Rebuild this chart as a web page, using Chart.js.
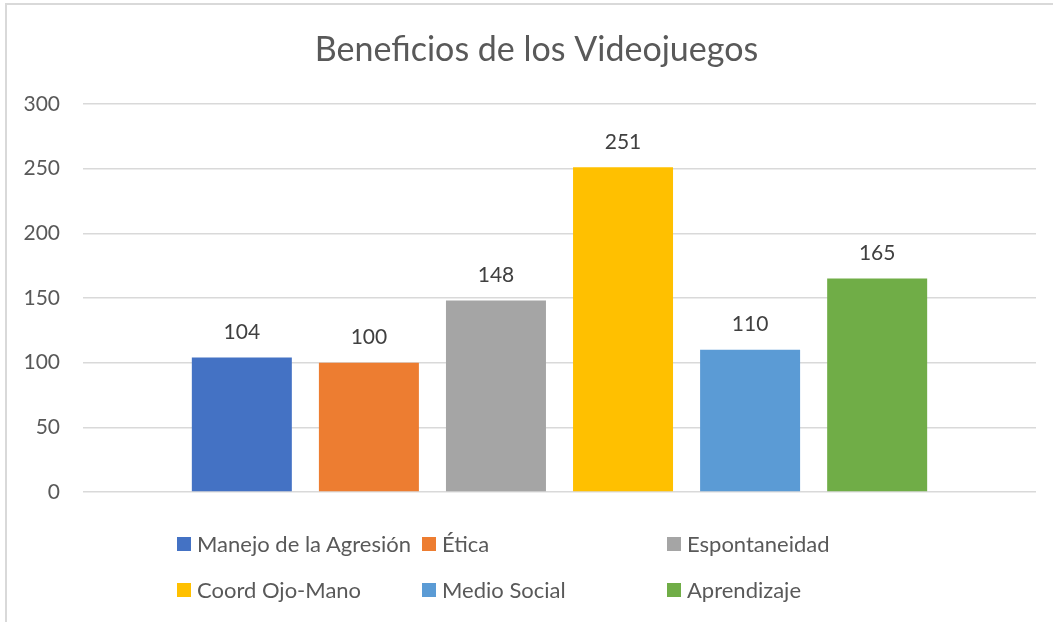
<!DOCTYPE html>
<html>
<head>
<meta charset="utf-8">
<script src="https://cdn.jsdelivr.net/npm/chart.js@4"></script>
<style>
  body { margin: 0; background: #fff; font-family: Lato, "Open Sans", sans-serif; }
  #wrap { position: relative; width: 1053px; height: 622px; overflow: hidden; }
  #frame { position: absolute; left: 5px; top: 3px; width: 1100px; height: 700px; border: 2px solid #d9d9d9; }
  #myChart { position: absolute; left: 0; top: 0; }
  #legend { position: absolute; left: 177px; top: 530px; display: grid; grid-template-columns: 245px 245px 245px; row-gap: 19px; }
  .item { display: flex; align-items: center; height: 27px; font-size: 22px; color: #595959; white-space: nowrap; }
  .box { width: 14px; height: 14px; margin-right: 6px; flex: none; }
</style>
</head>
<body>
<div id="wrap">
  <div id="frame"></div>
  <canvas id="myChart" width="1053" height="622"></canvas>
  <div id="legend"></div>
</div>
<script>
const chartTitle = 'Beneficios de los Videojuegos';
const seriesNames = ['Manejo de la Agresión', 'Ética', 'Espontaneidad', 'Coord Ojo-Mano', 'Medio Social', 'Aprendizaje'];
const seriesValues = [104, 100, 148, 251, 110, 165];
const seriesColors = ['#4472C4', '#ED7D31', '#A5A5A5', '#FFC000', '#5B9BD5', '#70AD47'];
const yTicks = [0, 50, 100, 150, 200, 250, 300];

// etiquetas encima de cada barra
const barLabels = {
    id: 'barLabels',
    afterDatasetsDraw(chart) {
        const ctx = chart.ctx;
        ctx.save();
        ctx.font = '21px Lato, "Open Sans", sans-serif';
        ctx.fillStyle = '#404040';
        ctx.textAlign = 'center';
        ctx.textBaseline = 'middle';
        chart.data.datasets.forEach((ds, i) => {
            const bar = chart.getDatasetMeta(i).data[0];
            ctx.fillText(ds.data[0], bar.x, bar.y - 25);
        });
        ctx.restore();
    }
};

// título (un poco a la derecha del centro, como en Excel)
const titlePlugin = {
    id: 'titlePlugin',
    afterDraw(chart) {
        const ctx = chart.ctx;
        ctx.save();
        ctx.font = '34px Lato, "Open Sans", sans-serif';
        ctx.fillStyle = '#595959';
        ctx.textAlign = 'center';
        ctx.textBaseline = 'middle';
        ctx.fillText(chartTitle, chart.width / 2 + 10, 50);
        ctx.restore();
    }
};

let datasets = [];
for (let i = 0; i < seriesNames.length; i++) {
    datasets.push({
        label: seriesNames[i],
        data: [seriesValues[i]],
        backgroundColor: seriesColors[i],
        categoryPercentage: 0.8,
        barPercentage: 0.787
    });
}

const ctx = document.getElementById('myChart').getContext('2d');
const myChart = new Chart(ctx, {
    type: 'bar',
    data: { labels: [''], datasets: datasets },
    options: {
        responsive: false,
        animation: false,
        layout: { padding: { top: 104, bottom: 130, left: 0, right: 17 } },
        plugins: {
            legend: { display: false },
            tooltip: { enabled: false },
            title: { display: false }
        },
        scales: {
            x: { display: false },
            y: {
                min: 0,
                max: 300,
                afterFit: (scale) => { scale.width = 83; },
                afterBuildTicks: (scale) => { scale.ticks = yTicks.map(v => ({ value: v })); },
                border: { display: false },
                grid: { color: '#d9d9d9', lineWidth: 1.5, drawTicks: false },
                ticks: {
                    padding: 23,
                    color: '#595959',
                    font: { family: 'Lato, "Open Sans", sans-serif', size: 21 }
                }
            }
        }
    },
    plugins: [barLabels, titlePlugin]
});

// leyenda en 3 columnas
const legend = document.getElementById('legend');
seriesNames.forEach((name, i) => {
    const item = document.createElement('div');
    item.className = 'item';
    item.innerHTML = '<span class="box" style="background:' + seriesColors[i] + '"></span>' + name;
    legend.appendChild(item);
});
</script>
</body>
</html>
